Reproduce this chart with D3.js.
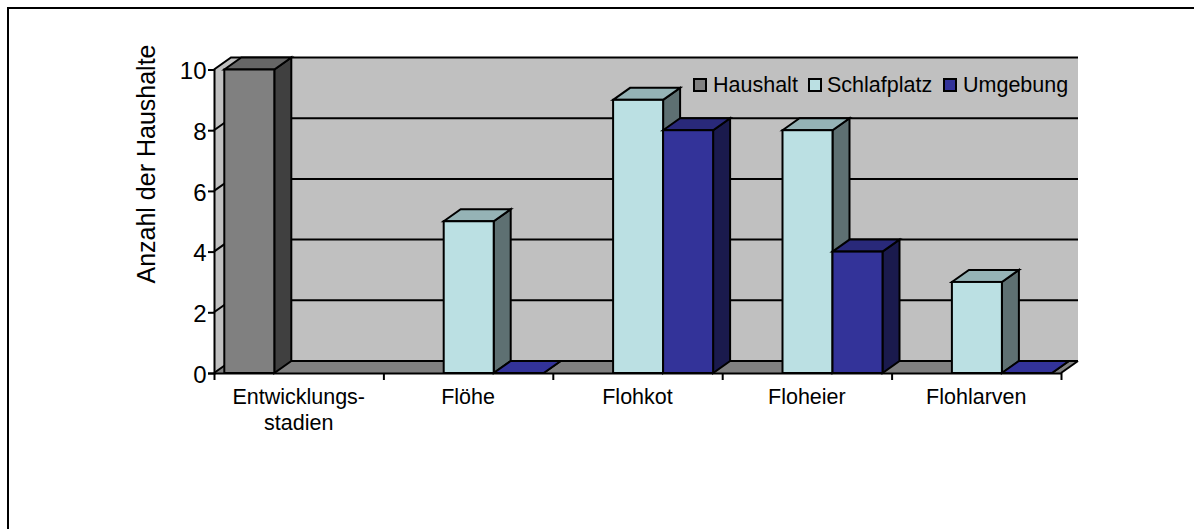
<!DOCTYPE html>
<html><head><meta charset="utf-8">
<script src="https://cdn.jsdelivr.net/npm/d3@7/dist/d3.min.js"></script>
<style>
html,body{margin:0;padding:0;background:#fff;overflow:hidden}
text{font-family:"Liberation Sans",Arial,sans-serif;fill:#000}
</style></head><body><svg id="c" width="1194" height="529"></svg>
<script>
const categories = ["Entwicklungs-\nstadien","Flöhe","Flohkot","Floheier","Flohlarven"];
const seriesNames = ["Haushalt","Schlafplatz","Umgebung"];
const haushalt = [10,null,null,null,null];
const schlafplatz = [null,5,9,8,3];
const umgebung = [null,0,8,4,0];
const seriesValues = [haushalt,schlafplatz,umgebung];
const yTicks = [0,2,4,6,8,10];
const faceColors = ["#808080","#BBE0E3","#333399"];
const topColors = ["#666666","#95B3B6","#29297A"];
const sideColors = ["#404040","#5E7072","#1A1A4D"];

const dx = 17, dy = -12;
const svg = d3.select("#c");
const x = d3.scaleBand().domain(d3.range(categories.length)).range([214,1061]);
const y = d3.scaleLinear().domain([0,10]).range([373,69.5]);
const barW = 50;
const barX = (c,s)=> x(c) + (x.bandwidth()-barW*3)/2 + 0.6 + s*barW;
const poly = pts => pts.map(p=>p.join(",")).join(" ");

// outer frame
svg.append("path").attr("d","M8,529V8H1194").attr("fill","none").attr("stroke","#000").attr("stroke-width",2);

const x0=x.range()[0], x1=x.range()[1], y0=y(0), yT=y(10);
// back wall, side wall, floor
svg.append("rect").attr("x",x0+dx).attr("y",yT+dy).attr("width",x1-x0).attr("height",y0-yT).attr("fill","#C0C0C0");
svg.append("polygon").attr("points",poly([[x0,yT],[x0+dx,yT+dy],[x0+dx,y0+dy],[x0,y0]])).attr("fill","#C0C0C0");
svg.append("polygon").attr("points",poly([[x0,y0],[x0+dx,y0+dy],[x1+dx,y0+dy],[x1,y0]])).attr("fill","#808080");

// gridlines
svg.append("g").selectAll("path").data(yTicks).join("path")
  .attr("d",t=>`M${x0},${y(t)}L${x0+dx},${y(t)+dy}H${x1+dx}`)
  .attr("fill","none").attr("stroke","#000").attr("stroke-width",2);
// front floor edge slant at right
svg.append("line").attr("x1",x1).attr("y1",y0).attr("x2",x1+dx).attr("y2",y0+dy).attr("stroke","#000").attr("stroke-width",2);

// bars
const bars = [];
categories.forEach((c,ci)=>seriesValues.forEach((vals,si)=>{ if(vals[ci]!==null) bars.push({ci,si,v:vals[ci]}); }));
const g = svg.append("g").attr("stroke","#000").attr("stroke-width",2).attr("stroke-linejoin","miter");
bars.forEach(b=>{
  const l=barX(b.ci,b.si), r=l+barW, t=y(b.v), f=y(0);
  g.append("polygon").attr("points",poly([[r,t],[r+dx,t+dy],[r+dx,f+dy],[r,f]])).attr("fill",sideColors[b.si]);
  g.append("polygon").attr("points",poly([[l,t],[l+dx,t+dy],[r+dx,t+dy],[r,t]])).attr("fill",b.v===0?faceColors[b.si]:topColors[b.si]);
  g.append("rect").attr("x",l).attr("y",t).attr("width",barW).attr("height",f-t).attr("fill",faceColors[b.si]);
});

// axes
const yAxis = d3.axisLeft(y).tickValues(yTicks).tickSize(6).tickPadding(1.5);
const ya = svg.append("g").attr("transform",`translate(${x0},0)`).call(yAxis);
ya.selectAll("text").style("font-size","24px").attr("dy","0.38em");
ya.selectAll("path,line").attr("stroke","#000").attr("stroke-width",2);

const xEdge = d3.scaleLinear().domain([0,categories.length]).range(x.range());
const xa = svg.append("g").attr("transform",`translate(0,${y0})`)
  .call(d3.axisBottom(xEdge).tickValues(d3.range(categories.length+1)).tickFormat("").tickSize(7).tickSizeOuter(0));
xa.selectAll("path,line").attr("stroke","#000").attr("stroke-width",2);

// category labels
categories.forEach((c,i)=>{
  c.split("\n").forEach((ln,j)=>{
    svg.append("text").attr("x",x(i)+x.bandwidth()/2).attr("y",404+j*26)
      .attr("text-anchor","middle").style("font-size","21.5px").text(ln);
  });
});

// y title
svg.append("text").attr("transform","translate(155,164) rotate(-90)").attr("text-anchor","middle")
  .style("font-size","25px").text("Anzahl der Haushalte");

// legend
const legendX = [694,809,944];
const legendTextX = [713,827,963];
seriesNames.forEach((n,i)=>{
  svg.append("rect").attr("x",legendX[i]).attr("y",79).attr("width",12).attr("height",12)
    .attr("fill",faceColors[i]).attr("stroke","#000").attr("stroke-width",2);
  svg.append("text").attr("x",legendTextX[i]).attr("y",92).style("font-size","21.5px").text(n);
});
</script></body></html>
